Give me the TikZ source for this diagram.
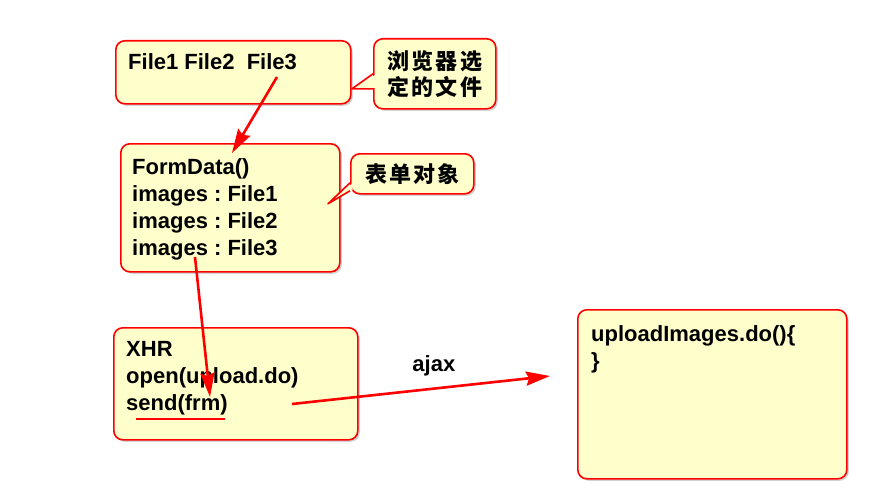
\documentclass[tikz,border=0pt]{standalone}
\usepackage{fontspec}
\setmainfont{Liberation Sans}
\newfontfamily\cjk[LetterSpace=10]{Noto Sans CJK SC}
\usepackage{xcolor}
\usetikzlibrary{arrows.meta,shadows,calc}
\definecolor{notefill}{HTML}{FFFFCC}
\frenchspacing
\tikzset{
  box/.style={draw=red, fill=notefill, line width=1.6pt, rounded corners=9pt,
    anchor=north west, inner sep=0pt,
    drop shadow={shadow xshift=2pt, shadow yshift=-2pt, fill=black!35, opacity=.5}},
  callout/.style={box, align=center, font=\cjk\bfseries\fontsize{22}{26}\selectfont},
  txt/.style={anchor=north west, inner sep=0pt, align=left,
    font=\bfseries\fontsize{22}{27}\selectfont},
  line/.style={draw=red, line width=2.6pt, -{Stealth[length=24pt,width=14pt,inset=3pt]}},
  pointer/.style={draw=red, line width=1.6pt, line join=round, fill=notefill},
}

\begin{document}
\begin{tikzpicture}[x=1pt, y=-1pt]
\useasboundingbox (0,0) rectangle (883,503);
% boxes
\node [box, minimum width=235pt, minimum height=63pt] (filebox) at (115,40) {};
\node [txt] (filetxt) at ($(filebox.north west)+(13,13)$) {File1 File2\ \ File3};
\node [box, minimum width=219pt, minimum height=128pt] (formbox) at (120,143) {};
\node [txt] (formtxt) at ($(formbox.north west)+(12,15)$) {FormData()\\images : File1\\images : File2\\images : File3};
\node [box, minimum width=244pt, minimum height=112pt] (xhrbox) at (113,327) {};
\node [txt] (xhrtxt) at ($(xhrbox.north west)+(13,14)$) {XHR\\open(upload.do)\\send(frm)};
\node [box, minimum width=269pt, minimum height=169pt] (serverbox) at (577,309) {};
\node [txt] (servertxt) at ($(serverbox.north west)+(14,16)$) {uploadImages.do()\{\\\}};
% callouts
\node [callout, minimum width=122pt, minimum height=70pt] (browsernote) at (373,38) {浏览器选\\定的文件};
\fill [notefill] ($(browsernote.west)+(2.5,1)$) -- ($(browsernote.west)+(-21,15)$) -- ($(browsernote.west)+(2.5,14)$) -- cycle;
\draw [pointer, fill=none] (browsernote.west) -- ($(browsernote.west)+(-21,15)$) -- ($(browsernote.west)+(0,15)$);
\node [callout, minimum width=123pt, minimum height=40pt] (formnote) at (350,153) {表单对象};
\fill [notefill] ($(formnote.west)+(2.5,9.5)$) -- ($(formnote.west)+(-22,30)$) -- ($(formnote.west)+(2.5,16.5)$) -- cycle;
\draw [pointer, fill=none] ($(formnote.west)+(0,9)$) -- ($(formnote.west)+(-22,30)$) -- ($(formnote.west)+(0,17)$);
% arrows
\path [line] ($(filebox.north west)+(162,37)$) -- ($(formbox.north west)+(112,10)$);
\path [line] ($(formbox.north west)+(75,114)$) -- ($(xhrbox.north west)+(97,70)$);
\path [line] ($(xhrbox.north west)+(179,77)$) -- ($(serverbox.north west)+(-27,67)$)
  node [pos=.55, above=8pt, font=\bfseries\fontsize{22}{27}\selectfont, black] (ajax) {ajax};
\draw [red, line width=2.5pt] ($(xhrtxt.south west)+(10,4)$) -- ++(89,0);
\end{tikzpicture}
\end{document}
